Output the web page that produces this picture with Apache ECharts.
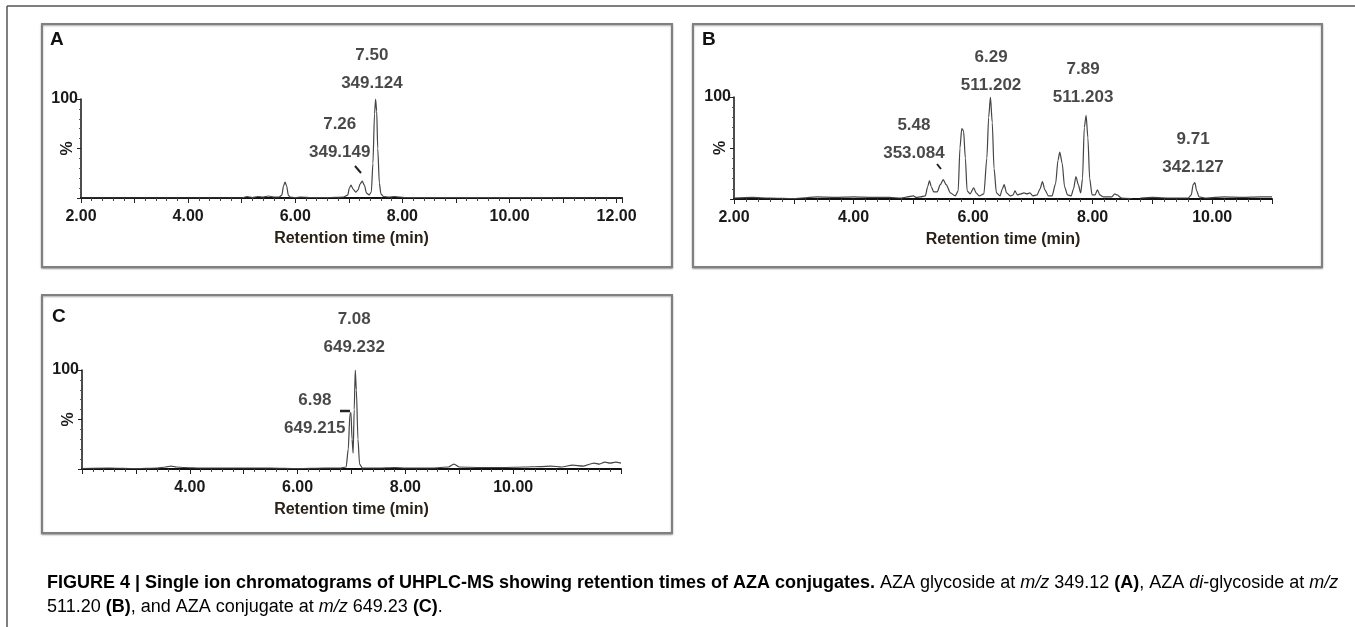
<!DOCTYPE html>
<html>
<head>
<meta charset="utf-8">
<script src="https://cdn.jsdelivr.net/npm/echarts@6/dist/echarts.min.js"></script>
<style>
  html, body { margin: 0; padding: 0; background: #fff; }
  #chart { width: 1355px; height: 627px; }
</style>
</head>
<body>
<div id="chart"></div>
<script>
// chromatogram traces, [retention time (min), relative intensity %]
var traceA = [
  [2.0,0],[5.0,0],[5.1,1.5],[5.2,0.5],[5.3,1.5],[5.4,1],[5.5,2],[5.6,1],[5.7,1],
  [5.75,3],[5.78,12],[5.81,16],[5.84,12],[5.87,3],[5.9,1],[6.0,0.5],[6.1,1],[6.3,0.5],
  [6.6,0.5],[6.9,1],[6.98,3],[7.01,10],[7.04,13],[7.08,9],[7.13,6],[7.17,8],[7.21,14],
  [7.25,17],[7.29,13],[7.33,5],[7.38,3],[7.42,6],[7.45,35],[7.48,85],[7.50,100],
  [7.52,88],[7.54,50],[7.57,15],[7.60,4],[7.65,1.5],[7.75,1],[7.85,1.5],[7.95,1],
  [8.05,0.5],[12.1,0]
];
var traceB = [
  [2.0,1],[2.3,1.5],[2.6,1],[3.0,0.5],[3.4,2],[3.7,1.5],[4.0,2],[4.3,1.5],[4.6,1.5],
  [4.8,1],[4.9,2],[5.0,3],[5.05,1.5],[5.12,2],[5.2,3],[5.24,12],[5.27,18],[5.30,12],
  [5.34,7],[5.40,7],[5.45,14],[5.50,19],[5.55,14],[5.62,6],[5.70,3],[5.75,8],[5.78,50],
  [5.81,69],[5.84,67],[5.87,40],[5.90,8],[5.95,5],[6.01,11],[6.05,6],[6.10,3],[6.18,5],
  [6.23,40],[6.26,80],[6.29,100],[6.32,75],[6.35,30],[6.39,6],[6.45,3],[6.49,10],
  [6.52,14],[6.56,6],[6.62,3],[6.67,4],[6.70,8],[6.74,4],[6.80,5],[6.85,6],[6.90,5],
  [6.95,6],[7.00,3],[7.07,4],[7.12,10],[7.16,17],[7.20,9],[7.26,3],[7.32,3],[7.38,15],
  [7.42,38],[7.45,46],[7.49,35],[7.53,12],[7.58,4],[7.64,3],[7.68,10],[7.72,22],
  [7.76,14],[7.80,6],[7.83,20],[7.86,70],[7.89,82],[7.92,60],[7.95,20],[7.99,4],
  [8.04,4],[8.08,9],[8.12,4],[8.18,2],[8.26,2],[8.32,2],[8.37,5],[8.41,4],[8.48,1],
  [8.65,0.5],[8.72,'-'],[8.8,1],[9.0,1.5],[9.3,1],[9.6,1],[9.65,4],[9.68,14],
  [9.71,16],[9.74,8],[9.78,2],[9.9,1],[10.2,2],[10.5,1.5],[10.8,2],[11.0,2]
];
var traceC = [
  [2.0,0.5],[2.5,1],[3.0,0.5],[3.4,1],[3.55,2],[3.65,3],[3.75,2],[3.9,1.5],[4.2,1],
  [4.6,1],[5.0,1],[5.5,1],[6.0,0.5],[6.5,1],[6.8,1],[6.9,2],[6.94,20],[6.97,55],
  [6.99,57],[7.01,30],[7.03,16],[7.05,60],[7.07,100],[7.09,80],[7.12,30],[7.15,5],
  [7.2,1],[7.5,1],[7.8,1.5],[8.0,1],[8.5,1],[8.8,2],[8.9,5],[9.0,2],[9.4,1.5],
  [9.8,1.5],[10.2,2],[10.5,2.5],[10.7,3],[10.9,2],[11.1,4],[11.3,3],[11.5,6],
  [11.6,5],[11.7,7],[11.8,6],[11.9,7],[12.0,6]
];

// peak annotations: [x, y, text]
var notesA = [[7.43,130,'7.50\n349.124'],[6.83,60,'7.26\n349.149']];
var notesB = [[6.30,125,'6.29\n511.202'],[7.84,113,'7.89\n511.203'],
              [5.01,59,'5.48\n353.084'],[9.68,45,'9.71\n342.127']];
var notesC = [[7.05,137,'7.08\n649.232'],[6.32,55,'6.98\n649.215']];

// axis ranges and tick labels
var xRanges = [[2,12.1],[2,11],[2,12]];
var xLabelsA = [2,4,6,8,10,12];
var xLabelsB = [2,4,6,8,10];
var xLabelsC = [4,6,8,10];
var panelNames = ['A','B','C'];

var FONT = "'Liberation Sans',Arial,sans-serif";
var chart = echarts.init(document.getElementById('chart'));

function xAxisOf(i, labels){
  return {
    gridIndex: i, type: 'value', min: xRanges[i][0], max: xRanges[i][1], interval: 1,
    axisLine: {lineStyle: {color: '#111', width: 2}},
    axisTick: {length: 5, lineStyle: {color: '#222'}},
    minorTick: {show: true, splitNumber: 5, length: 3, lineStyle: {color: '#444'}},
    splitLine: {show: false},
    axisLabel: {
      margin: 11, fontFamily: FONT, fontWeight: 'bold', fontSize: 16, color: '#1a1a1a',
      formatter: function(v){ return labels.indexOf(v) >= 0 ? v.toFixed(2) : ''; }
    },
    name: 'Retention time (min)', nameLocation: 'middle', nameGap: 33,
    nameTextStyle: {fontFamily: FONT, fontWeight: 'bold', fontSize: 16, color: '#2a2218'}
  };
}
function yAxisOf(i){
  return {
    gridIndex: i, type: 'value', min: 0, max: 100, interval: 50,
    axisLine: {show: true, lineStyle: {color: '#111', width: 1.5}},
    axisTick: {show: true, length: 4, lineStyle: {color: '#222'}},
    minorTick: {show: true, splitNumber: 5, length: 2, lineStyle: {color: '#555'}},
    splitLine: {show: false},
    axisLabel: {
      margin: 3, fontFamily: FONT, fontWeight: 'bold', fontSize: 16, color: '#1a1a1a',
      formatter: function(v){ return v === 100 ? '100' : ''; }
    },
    name: '%', nameLocation: 'middle', nameRotate: 90, nameGap: 5, nameMoveOverlap: false,
    nameTextStyle: {fontFamily: FONT, fontWeight: 'bold', fontSize: 16, color: '#1a1a1a'}
  };
}
function traceOf(i, data){
  return {
    type: 'line', xAxisIndex: i, yAxisIndex: i, data: data, showSymbol: false,
    smooth: 0.25, smoothMonotone: 'x', connectNulls: false, silent: true,
    lineStyle: {color: '#454545', width: 1.2}
  };
}
function notesOf(i, data){
  return {
    type: 'scatter', xAxisIndex: i, yAxisIndex: i, data: data, symbolSize: 0,
    clip: false, silent: true,
    label: {
      show: true, position: 'inside', lineHeight: 28,
      fontFamily: FONT, fontWeight: 'bold', fontSize: 17, color: '#1a1a1a',
      formatter: function(p){ return p.data[2]; }
    }
  };
}

var boxes = [[42,24,630,243],[693,24,629,243],[42,295,630,238]];
var letterPos = [[50,30],[702,30],[52,307]];

var graphics = [
  {type: 'line', shape: {x1: 7, y1: 6, x2: 1355, y2: 6}, style: {stroke: '#555', lineWidth: 1.5}},
  {type: 'line', shape: {x1: 7, y1: 6, x2: 7, y2: 627}, style: {stroke: '#555', lineWidth: 1.5}},
  // small leader marks near annotations
  {type: 'line', shape: {x1: 355, y1: 166, x2: 361, y2: 173}, style: {stroke: '#222', lineWidth: 2}},
  {type: 'line', shape: {x1: 937, y1: 164, x2: 941, y2: 169}, style: {stroke: '#222', lineWidth: 2}},
  {type: 'line', shape: {x1: 340, y1: 411, x2: 350, y2: 411}, style: {stroke: '#222', lineWidth: 2.5}},
  {
    type: 'text', left: 47, top: 571,
    style: {
      text: '{b|FIGURE 4 | Single ion chromatograms of UHPLC-MS showing retention times of AZA conjugates.}' +
            '{n| AZA glycoside at }{i|m/z}{n| 349.12 }{b|(A)}{n|, AZA }{i|di}{n|-glycoside at }{i|m/z}\n' +
            '{n|511.20 }{b|(B)}{n|, and AZA conjugate at }{i|m/z}{n| 649.23 }{b|(C)}{n|.}',
      font: '18px Liberation Sans', lineHeight: 24,
      rich: {
        b: {fontFamily: 'Liberation Sans', fontWeight: 'bold', fontSize: 18, color: '#222', lineHeight: 24},
        n: {fontFamily: 'Liberation Sans', fontSize: 18, color: '#3c3c3c', lineHeight: 24},
        i: {fontFamily: 'Liberation Sans', fontStyle: 'italic', fontSize: 18, color: '#3c3c3c', lineHeight: 24}
      }
    }
  }
];
boxes.forEach(function(b, k){
  graphics.push({
    type: 'rect', shape: {x: b[0], y: b[1], width: b[2], height: b[3]}, z: -1,
    style: {fill: '#fff', stroke: '#808080', lineWidth: 2,
            shadowBlur: 2, shadowOffsetY: 1, shadowColor: 'rgba(0,0,0,0.35)'}
  });
  graphics.push({
    type: 'text', left: letterPos[k][0], top: letterPos[k][1],
    style: {text: panelNames[k], font: 'bold 19px Liberation Sans', fill: '#111'}
  });
});

var option = {
  backgroundColor: '#fff',
  animation: false,
  grid: [
    {left: 81, top: 99, width: 541, height: 99, outerBoundsMode: 'none'},
    {left: 734, top: 97, width: 538, height: 102, outerBoundsMode: 'none'},
    {left: 82, top: 370, width: 539, height: 99, outerBoundsMode: 'none'}
  ],
  xAxis: [xAxisOf(0, xLabelsA), xAxisOf(1, xLabelsB), xAxisOf(2, xLabelsC)],
  yAxis: [yAxisOf(0), yAxisOf(1), yAxisOf(2)],
  series: [
    traceOf(0, traceA), traceOf(1, traceB), traceOf(2, traceC),
    notesOf(0, notesA), notesOf(1, notesB), notesOf(2, notesC)
  ],
  graphic: graphics
};
chart.setOption(option);
</script>
</body>
</html>
